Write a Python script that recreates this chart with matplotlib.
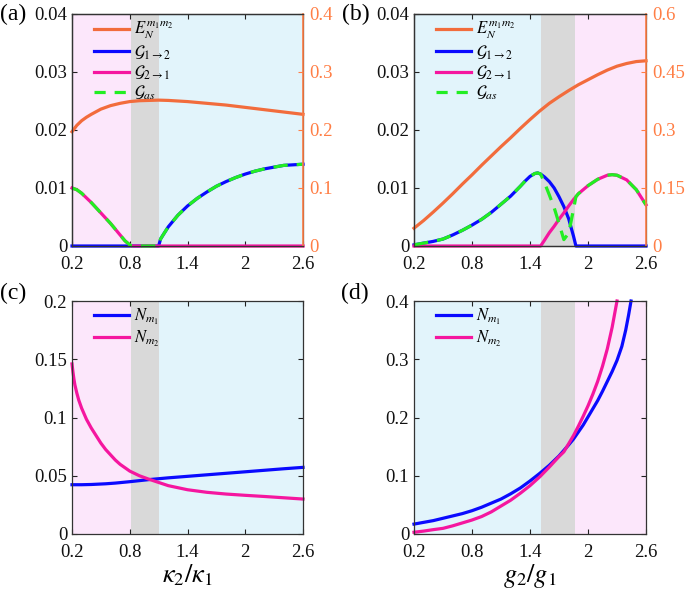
import matplotlib
matplotlib.use("Agg")
import matplotlib.pyplot as plt
from matplotlib.lines import Line2D

plt.rcParams['font.family'] = ['Liberation Serif', 'DejaVu Serif']
plt.rcParams['mathtext.fontset'] = 'stix'

# ---------------- data ----------------
xticks = [0.2, 0.8, 1.4, 2.0, 2.6]
xticklabels = ['0.2', '0.8', '1.4', '2', '2.6']

# panel (a): vs kappa2/kappa1
a_en_x = [0.2, 0.25, 0.3, 0.35, 0.4, 0.5, 0.6, 0.7, 0.8, 0.9, 1.0, 1.1, 1.2, 1.4, 1.6, 1.8, 2.0, 2.2, 2.4, 2.6]
a_en = [0.197, 0.208, 0.216, 0.222, 0.227, 0.236, 0.242, 0.246, 0.249, 0.2505, 0.251, 0.2515, 0.251,
        0.249, 0.246, 0.243, 0.239, 0.235, 0.231, 0.227]
a_x = [0.2, 0.25, 0.3, 0.35, 0.4, 0.45, 0.5, 0.55, 0.6, 0.65, 0.7, 0.75, 0.8, 0.82, 0.9, 1.0, 1.1,
       1.12, 1.15, 1.2, 1.3, 1.4, 1.5, 1.6, 1.7, 1.8, 1.9, 2.0, 2.1, 2.2, 2.3, 2.4, 2.5, 2.6]
a_g12 = [0, 0, 0, 0, 0, 0, 0, 0, 0, 0, 0, 0, 0, 0, 0, 0, 0,
         0.0012, 0.0020, 0.0033, 0.0053, 0.0069, 0.0082, 0.0093, 0.0103, 0.0111, 0.0118, 0.0124,
         0.0129, 0.0133, 0.0136, 0.0139, 0.0140, 0.0141]
a_g21 = [0.0100, 0.0097, 0.0091, 0.0083, 0.0075, 0.0066, 0.0057, 0.0048, 0.0039, 0.0029, 0.0019,
         0.0009, 0.0002, 0, 0, 0, 0,
         0, 0, 0, 0, 0, 0, 0, 0, 0, 0, 0, 0, 0, 0, 0, 0, 0]
a_gas = [0.0100, 0.0097, 0.0091, 0.0083, 0.0075, 0.0066, 0.0057, 0.0048, 0.0039, 0.0029, 0.0019,
         0.0009, 0.0002, 0, 0, 0, 0,
         0.0012, 0.0020, 0.0033, 0.0053, 0.0069, 0.0082, 0.0093, 0.0103, 0.0111, 0.0118, 0.0124,
         0.0129, 0.0133, 0.0136, 0.0139, 0.0140, 0.0141]

# panel (b): vs g2/g1
b_en_x = [0.2, 0.3, 0.4, 0.5, 0.6, 0.7, 0.8, 0.9, 1.0, 1.1, 1.2, 1.3, 1.4, 1.5, 1.6, 1.7, 1.8, 1.9,
          2.0, 2.1, 2.2, 2.3, 2.4, 2.5, 2.6]
b_en = [0.046, 0.066, 0.088, 0.111, 0.135, 0.160, 0.184, 0.209, 0.233, 0.257, 0.280, 0.304, 0.327,
        0.349, 0.369, 0.386, 0.402, 0.417, 0.430, 0.443, 0.455, 0.465, 0.472, 0.477, 0.479]
b_x = [0.2, 0.3, 0.4, 0.5, 0.6, 0.7, 0.8, 0.9, 1.0, 1.1, 1.2, 1.3, 1.35, 1.4, 1.45, 1.48, 1.51,
       1.55, 1.6, 1.65, 1.7, 1.75, 1.8, 1.85, 1.875, 1.9, 2.0, 2.1, 2.2, 2.25, 2.3, 2.4, 2.5, 2.6]
b_g12 = [0.0002, 0.0005, 0.0008, 0.0012, 0.0019, 0.0027, 0.0036, 0.0046, 0.0058, 0.0072, 0.0086,
         0.0103, 0.0112, 0.0120, 0.0125, 0.0126, 0.0124,
         0.0119, 0.0111, 0.0100, 0.0085, 0.0068, 0.0047, 0.0017, 0, 0, 0, 0, 0, 0, 0, 0, 0, 0]
b_g21 = [0, 0, 0, 0, 0, 0, 0, 0, 0, 0, 0, 0, 0, 0, 0, 0, 0,
         0.0010, 0.0023, 0.0034, 0.0046, 0.0057, 0.0069, 0.0080, 0.0085, 0.0090, 0.0104, 0.0115,
         0.0122, 0.0123, 0.0122, 0.0114, 0.0097, 0.0071]
b_gas = [0.0002, 0.0005, 0.0008, 0.0012, 0.0019, 0.0027, 0.0036, 0.0046, 0.0058, 0.0072, 0.0086,
         0.0103, 0.0112, 0.0120, 0.0125, 0.0126, 0.0124,
         0.0109, 0.0088, 0.0066, 0.0039, 0.0011, 0.0022, 0.0063, 0.0085, 0.0090, 0.0104, 0.0115,
         0.0122, 0.0123, 0.0122, 0.0114, 0.0097, 0.0071]

# panel (c): vs kappa2/kappa1
c_x = [0.2, 0.21, 0.22, 0.23, 0.25, 0.27, 0.3, 0.35, 0.4, 0.45, 0.5, 0.55, 0.6, 0.65, 0.7, 0.8, 0.9,
       1.0, 1.2, 1.4, 1.6, 1.8, 2.0, 2.2, 2.4, 2.6]
c_nm1 = [0.0423, 0.0423, 0.0423, 0.0423, 0.0423, 0.0423, 0.0423, 0.0424, 0.0425, 0.0427, 0.0429,
         0.0431, 0.0434, 0.0437, 0.0441, 0.0449, 0.0458, 0.0467, 0.0482, 0.0495, 0.0508, 0.0521,
         0.0534, 0.0547, 0.0560, 0.0572]
c_nm2 = [0.146, 0.139, 0.133, 0.128, 0.121, 0.115, 0.108, 0.0985, 0.091, 0.0845, 0.078, 0.0725,
         0.068, 0.0635, 0.0598, 0.054, 0.050, 0.047, 0.0415, 0.038, 0.0358, 0.0343, 0.0332, 0.0322,
         0.0311, 0.0300]

# panel (d): vs g2/g1
d_x1 = [0.2, 0.3, 0.4, 0.5, 0.6, 0.7, 0.8, 0.9, 1.0, 1.1, 1.2, 1.3, 1.4, 1.5, 1.6, 1.7, 1.8, 1.85,
        1.9, 1.95, 2.0, 2.05, 2.1, 2.15, 2.2, 2.25, 2.3, 2.35, 2.39, 2.42, 2.445]
d_nm1 = [0.017, 0.020, 0.023, 0.027, 0.031, 0.035, 0.040, 0.046, 0.053, 0.060, 0.069, 0.079, 0.091,
         0.104, 0.118, 0.134, 0.153, 0.163, 0.175, 0.187, 0.201, 0.215, 0.229, 0.245, 0.262, 0.279,
         0.298, 0.322, 0.350, 0.376, 0.400]
d_x2 = [0.2, 0.3, 0.4, 0.5, 0.6, 0.7, 0.8, 0.9, 1.0, 1.1, 1.2, 1.3, 1.4, 1.5, 1.6, 1.7, 1.75, 1.8,
        1.85, 1.9, 1.95, 2.0, 2.05, 2.1, 2.15, 2.2, 2.25, 2.3]
d_nm2 = [0.003, 0.005, 0.0075, 0.0097, 0.014, 0.019, 0.024, 0.030, 0.038, 0.048, 0.058, 0.070,
         0.083, 0.098, 0.115, 0.133, 0.141, 0.155, 0.169, 0.185, 0.202, 0.220, 0.240, 0.262, 0.288,
         0.318, 0.355, 0.400]

# regions
a_regions = [(0.2, 0.81, 'pink'), (0.81, 1.1, 'grey'), (1.1, 2.6, 'blue')]
b_regions = [(0.2, 1.51, 'blue'), (1.51, 1.87, 'grey'), (1.87, 2.6, 'pink')]

# ---------------- styles ----------------
BG = {'pink': '#fce7fb', 'grey': '#d9d9d9', 'blue': '#e2f4fb'}
C_EN = '#f26c3c'
C_AX2 = '#ff7e45'
C_B = '#0a0aff'
C_M = '#f5169f'
C_G = '#22ee22'
LW = 2.3
FS = 13.5
LFS = 12

fig = plt.figure(figsize=(6.85, 5.9), dpi=100)
W, H = 685.0, 590.0


def mkax(l, t, w, h):
    return fig.add_axes([l / W, 1 - (t + h) / H, w / W, h / H])


def style(ax, right=True):
    ax.tick_params(direction='in', top=True, right=right, length=3.5, width=0.8,
                   labelsize=FS, colors='#222222', labelcolor='#111111')
    ax.tick_params(axis='x', pad=7)
    ax.tick_params(axis='y', pad=3.5)
    for s in ax.spines.values():
        s.set_color('#333333')
        s.set_linewidth(0.9)


def shade(ax, regions):
    for x0, x1, c in regions:
        ax.axvspan(x0, x1, color=BG[c], lw=0, zorder=0)


axa = mkax(72, 14, 231, 232)
axb = mkax(414, 14, 232, 232)
axc = mkax(72, 301, 231, 233)
axd = mkax(414, 301, 232, 233)

for ax in (axa, axb, axc, axd):
    ax.set_xlim(0.2, 2.6)
    ax.set_xticks(xticks)
    ax.set_xticklabels(xticklabels)

shade(axa, a_regions)
shade(axb, b_regions)
shade(axc, a_regions)
shade(axd, b_regions)

leg_kw = dict(loc='upper left', frameon=False, fontsize=LFS, handlelength=2.1,
              handletextpad=0.3, labelspacing=0.12, borderaxespad=0.0,
              bbox_to_anchor=(0.065, 1.005))

# ---- (a) and (b)
for ax, ex, ey, gx, g12, g21, gas, rmax, rt, rtl in [
        (axa, a_en_x, a_en, a_x, a_g12, a_g21, a_gas, 0.4, [0, 0.1, 0.2, 0.3, 0.4],
         ['0', '0.1', '0.2', '0.3', '0.4']),
        (axb, b_en_x, b_en, b_x, b_g12, b_g21, b_gas, 0.6, [0, 0.15, 0.3, 0.45, 0.6],
         ['0', '0.15', '0.3', '0.45', '0.6'])]:
    ax.set_ylim(0, 0.04)
    ax.set_yticks([0, 0.01, 0.02, 0.03, 0.04])
    ax.set_yticklabels(['0', '0.01', '0.02', '0.03', '0.04'])
    style(ax, right=False)
    ax.plot(gx, g12, color=C_B, lw=LW, clip_on=False, zorder=3)
    ax.plot(gx, g21, color=C_M, lw=LW, clip_on=False, zorder=4)
    ax.plot(gx, gas, color=C_G, lw=LW, ls=(0, (4.5, 2.8)), clip_on=False, zorder=5)
    ax2 = ax.twinx()
    ax2.set_ylim(0, rmax)
    ax2.set_yticks(rt)
    ax2.set_yticklabels(rtl)
    ax2.plot(ex, ey, color=C_EN, lw=LW, clip_on=False)
    ax2.tick_params(direction='in', length=3.5, width=0.8, labelsize=FS, pad=4.5,
                    colors=C_AX2, labelcolor=C_AX2)
    for s in ax2.spines.values():
        s.set_linewidth(0.9)
        s.set_color('#333333')
    ax2.spines['right'].set_color(C_AX2)
    ax2.spines['right'].set_linewidth(1.2)
    handles = [Line2D([], [], color=C_EN, lw=LW),
               Line2D([], [], color=C_B, lw=LW),
               Line2D([], [], color=C_M, lw=LW),
               Line2D([], [], color=C_G, lw=LW, ls=(0, (3.5, 2.8)))]
    labels = [r'$E_N^{m_1m_2}$', r'$\mathcal{G}_{1\to2}$', r'$\mathcal{G}_{2\to1}$',
              r'$\mathcal{G}_{as}$']
    ax2.legend(handles, labels, **leg_kw)

# ---- (c)
axc.set_ylim(0, 0.2)
axc.set_yticks([0, 0.05, 0.1, 0.15, 0.2])
axc.set_yticklabels(['0', '0.05', '0.1', '0.15', '0.2'])
style(axc)
axc.plot(c_x, c_nm1, color=C_B, lw=LW, clip_on=False, label=r'$N_{m_1}$')
axc.plot(c_x, c_nm2, color=C_M, lw=LW, clip_on=False, label=r'$N_{m_2}$')
axc.set_xlabel(r'$\kappa_2/\kappa_1$', fontsize=19, labelpad=1)

# ---- (d)
axd.set_ylim(0, 0.4)
axd.set_yticks([0, 0.1, 0.2, 0.3, 0.4])
axd.set_yticklabels(['0', '0.1', '0.2', '0.3', '0.4'])
style(axd)
axd.plot(d_x1, d_nm1, color=C_B, lw=LW, clip_on=False, label=r'$N_{m_1}$')
axd.plot(d_x2, d_nm2, color=C_M, lw=LW, clip_on=False, label=r'$N_{m_2}$')
axd.set_xlabel(r'$g_2/g_1$', fontsize=19, labelpad=1)

for ax in (axc, axd):
    ax.legend(**leg_kw)

# panel labels
for txt, x, y in [('(a)', 0, 14), ('(b)', 342, 14), ('(c)', 0, 293), ('(d)', 341, 293)]:
    fig.text(x / W, 1 - y / H, txt, fontsize=17, ha='left', va='center')

fig.savefig('out.png', dpi=100)
